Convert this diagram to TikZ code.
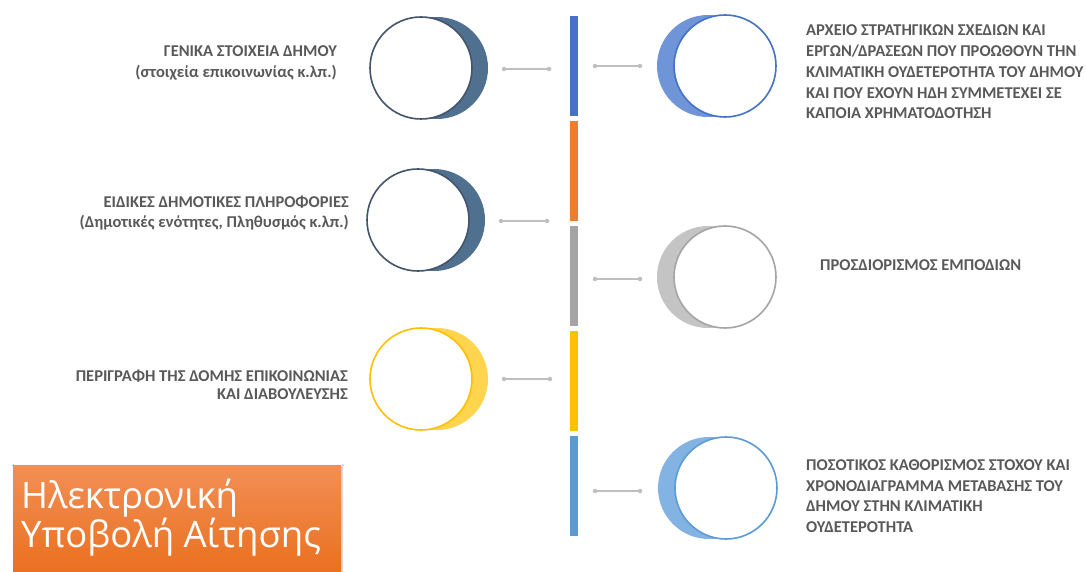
\documentclass[tikz,border=0pt]{standalone}
\usepackage{fontspec}
\setmainfont{Carlito}
\newfontfamily\titlefont{Open Sans}
\usetikzlibrary{shadows.blur}

\definecolor{txt}{HTML}{595959}
\definecolor{slateO}{HTML}{44546A}
\definecolor{slateF}{HTML}{50708F}
\definecolor{blueO}{HTML}{4472C4}
\definecolor{blueF}{HTML}{7094D8}
\definecolor{grayO}{HTML}{A5A5A5}
\definecolor{grayF}{HTML}{C4C4C4}
\definecolor{yelO}{HTML}{FFC000}
\definecolor{yelF}{HTML}{FFD44F}
\definecolor{lblueO}{HTML}{5B9BD5}
\definecolor{lblueF}{HTML}{83B3E3}
\definecolor{orangeB}{HTML}{ED7D31}
\definecolor{lnk}{HTML}{BFBFBF}
\definecolor{boxTop}{HTML}{F28F55}
\definecolor{boxBot}{HTML}{E96E1C}

\begin{document}
\begin{tikzpicture}[x=1pt,y=-1pt,
  lbl/.style={font=\bfseries\fontsize{16.5}{20.7}\selectfont, text=txt, inner sep=0},
  ring/.style={circle, minimum size=102pt, inner sep=0, fill=white, line width=1.6pt},
  moon/.style={circle, minimum size=102pt, inner sep=0},
  seg/.style={minimum width=8pt, minimum height=100pt, inner sep=0},
  link/.style={draw=lnk, line width=1.3pt},
  tip/.style={circle, fill=lnk, inner sep=0, minimum size=4.5pt}]
\useasboundingbox (0,0) rectangle (1086,572);
\fill[white] (0,0) rectangle (1086,572);

% timeline segments
\node[seg, fill=blueO]   (s1) at (574,66)  {};
\node[seg, fill=orangeB] (s2) at (574,171) {};
\node[seg, fill=grayO]   (s3) at (574,276) {};
\node[seg, fill=yelO]    (s4) at (574,381) {};
\node[seg, fill=lblueO]  (s5) at (574,486) {};

% left crescents
\node[moon, fill=slateF] (m1) at (437,68) {};
\node[ring, draw=slateO] (c1) at (421,68) {};
\node[moon, fill=slateF] (m2) at (434,220) {};
\node[ring, draw=slateO] (c2) at (418,220) {};
\node[moon, fill=yelF]   (m3) at (437,379) {};
\node[ring, draw=yelO]   (c3) at (421,379) {};

% right crescents
\node[moon, fill=blueF]  (m4) at (708,66) {};
\node[ring, draw=blueO]  (c4) at (725,66) {};
\node[moon, fill=grayF]  (m5) at (708,277) {};
\node[ring, draw=grayO]  (c5) at (725,277) {};
\node[moon, fill=lblueF] (m6) at (709,488) {};
\node[ring, draw=lblueO] (c6) at (726,488) {};

% short connectors with dotted ends
\foreach \n/\xa/\xb/\yy in {a/504/549/69, b/501/547/221, c/504/550/379,
                              d/595/640/66, e/595/640/279, f/595/640/491}{
  \coordinate (\n0) at (\xa,\yy);
  \coordinate (\n1) at (\xb,\yy);
  \draw[link] (\n0) -- (\n1);
  \node[tip] at (\n0) {};
  \node[tip] at (\n1) {};
}

% left labels
\node[lbl, align=right, anchor=east] (t1) at (337,63)
  {ΓΕΝΙΚΑ ΣΤΟΙΧΕΙΑ ΔΗΜΟΥ\\(στοιχεία επικοινωνίας κ.λπ.)};
\node[lbl, align=right, anchor=east] (t2) at (349,213)
  {ΕΙΔΙΚΕΣ ΔΗΜΟΤΙΚΕΣ ΠΛΗΡΟΦΟΡΙΕΣ\\(Δημοτικές ενότητες, Πληθυσμός κ.λπ.)};
\node[lbl, align=right, anchor=east, font=\bfseries\fontsize{16.5}{18}\selectfont] (t3) at (348,385)
  {ΠΕΡΙΓΡΑΦΗ ΤΗΣ ΔΟΜΗΣ ΕΠΙΚΟΙΝΩΝΙΑΣ\\ΚΑΙ ΔΙΑΒΟΥΛΕΥΣΗΣ};

% right labels
\node[lbl, align=left, anchor=west] (t4) at (806,72)
  {ΑΡΧΕΙΟ ΣΤΡΑΤΗΓΙΚΩΝ ΣΧΕΔΙΩΝ ΚΑΙ\\ΕΡΓΩΝ/ΔΡΑΣΕΩΝ ΠΟΥ ΠΡΟΩΘΟΥΝ ΤΗΝ\\ΚΛΙΜΑΤΙΚΗ ΟΥΔΕΤΕΡΟΤΗΤΑ ΤΟΥ ΔΗΜΟΥ\\ΚΑΙ ΠΟΥ ΕΧΟΥΝ ΗΔΗ ΣΥΜΜΕΤΕΧΕΙ ΣΕ\\ΚΑΠΟΙΑ ΧΡΗΜΑΤΟΔΟΤΗΣΗ};
\node[lbl, anchor=west] (t5) at (820,265) {ΠΡΟΣΔΙΟΡΙΣΜΟΣ ΕΜΠΟΔΙΩΝ};
\node[lbl, align=left, anchor=west] (t6) at (806,496)
  {ΠΟΣΟΤΙΚΟΣ ΚΑΘΟΡΙΣΜΟΣ ΣΤΟΧΟΥ ΚΑΙ\\ΧΡΟΝΟΔΙΑΓΡΑΜΜΑ ΜΕΤΑΒΑΣΗΣ ΤΟΥ\\ΔΗΜΟΥ ΣΤΗΝ ΚΛΙΜΑΤΙΚΗ\\ΟΥΔΕΤΕΡΟΤΗΤΑ};

% title box
\path[blur shadow={shadow xshift=1pt, shadow yshift=-1pt, shadow blur steps=6, shadow opacity=25},
      top color=boxTop, bottom color=boxBot] (13,465) rectangle (341,580);
\node[anchor=west, inner sep=0, align=left, text=white,
      font=\titlefont\fontsize{36.5}{36}\selectfont] (title) at (21,518)
  {Ηλεκτρονική\\Υποβολή Αίτησης};
\end{tikzpicture}
\end{document}
